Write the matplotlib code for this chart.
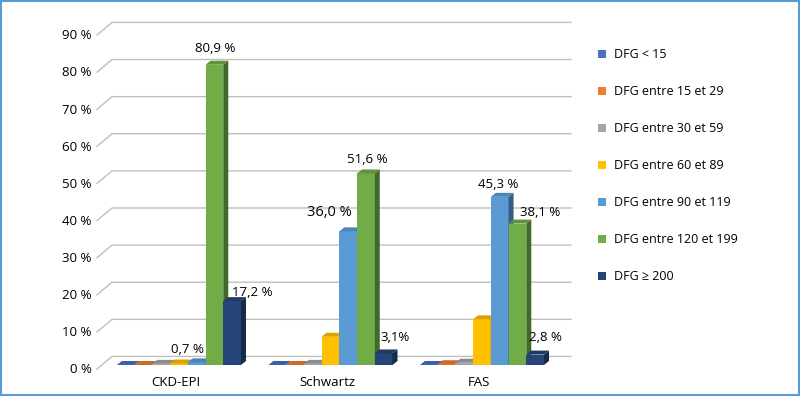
import matplotlib
matplotlib.use('Agg')
import numpy as np
import matplotlib.pyplot as plt
from matplotlib.patches import Polygon, Patch, Rectangle
from matplotlib.colors import to_rgb

plt.rcParams['font.family'] = ['Open Sans', 'DejaVu Sans']

categories = ['CKD-EPI', 'Schwartz', 'FAS']
series = ['DFG < 15', 'DFG entre 15 et 29', 'DFG entre 30 et 59', 'DFG entre 60 et 89',
          'DFG entre 90 et 119', 'DFG entre 120 et 199', 'DFG \u2265 200']
colors = ['#4472C4', '#ED7D31', '#A5A5A5', '#FFC000', '#5B9BD5', '#70AD47', '#264478']

# values in % : one row per series, one column per method
dfg_lt15 = [0.0, 0.0, 0.0]
dfg_15_29 = [0.0, 0.0, 0.2]
dfg_30_59 = [0.3, 0.3, 0.6]
dfg_60_89 = [0.4, 7.6, 12.3]
dfg_90_119 = [0.7, 36.0, 45.3]
dfg_120_199 = [80.9, 51.6, 38.1]
dfg_ge200 = [17.2, 3.1, 2.8]
values = [dfg_lt15, dfg_15_29, dfg_30_59, dfg_60_89, dfg_90_119, dfg_120_199, dfg_ge200]

yticks = [0, 10, 20, 30, 40, 50, 60, 70, 80, 90]

# (category, series, text, offset in pixels from top of bar, fontsize)
value_labels = [
    (0, 4, '0,7 %', (-9, 13), 9.5),
    (0, 5, '80,9 %', (1, 16), 9.5),
    (0, 6, '17,2 %', (20, 9), 9.5),
    (1, 4, '36,0 %', (-19, 19), 10.5),
    (1, 5, '51,6 %', (1, 14), 9.5),
    (1, 6, '3,1%', (11, 16), 9.5),
    (2, 4, '45,3 %', (-2, 12), 9.5),
    (2, 5, '38,1 %', (23, 11), 9.5),
    (2, 6, '2,8 %', (10, 17), 9.5),
]

fig = plt.figure(figsize=(8, 3.96), dpi=100)
ax = fig.add_axes([90 / 800, 21 / 396, 490 / 800, 360 / 396])
ax.set_xlim(-0.587, 2.647)
ax.set_ylim(-2.7, 94.3)
ax.axis('off')

# 3d look (in data units)
dx, dy = 0.033, 1.08          # bar depth
wall_dx, wall_dy = 0.099, 2.3  # back wall offset
front_x = -0.541

bw = 0.117
x = np.arange(len(categories))

# back wall grid + floor diagonals
for v in yticks:
    ax.plot([front_x, front_x + wall_dx, 2.587], [v - 1.1, v + wall_dy, v + wall_dy],
            color='#BFBFBF', lw=1, zorder=1)
    ax.text(front_x - 0.035, v - 1.3, f'{v} %', ha='right', va='center', fontsize=9.5)

def shade(c, f):
    r, g, b = to_rgb(c)
    return (r * f, g * f, b * f)

k = 0
for gi in range(len(categories)):
    for si, (vals, c) in enumerate(zip(values, colors)):
        h = vals[gi]
        x0 = x[gi] + (si - 3.5) * bw
        x1 = x0 + bw
        z = 2 + 0.01 * k
        k += 1
        ax.bar(x0, h, width=bw, align='edge', color=c, zorder=z)
        ax.add_patch(Polygon([(x0, h), (x1, h), (x1 + dx, h + dy), (x0 + dx, h + dy)],
                             closed=True, facecolor=shade(c, 0.85), edgecolor='none', zorder=z))
        ax.add_patch(Polygon([(x1, 0), (x1, h), (x1 + dx, h + dy), (x1 + dx, dy)],
                             closed=True, facecolor=shade(c, 0.6), edgecolor='none', zorder=z))

for gi, si, txt, off, fs in value_labels:
    xc = x[gi] + (si - 3) * bw
    ax.annotate(txt, (xc, values[si][gi]), xytext=off, textcoords='offset pixels',
                ha='center', va='center', fontsize=fs, zorder=10)

for gi, cat in enumerate(categories):
    ax.text(x[gi] - 0.02, -4.6, cat, ha='center', va='center', fontsize=9.5)

handles = [Patch(facecolor=c, edgecolor='none', label=s) for s, c in zip(series, colors)]
fig.legend(handles=handles, loc='upper left', bbox_to_anchor=(587 / 800, 1 - 37 / 396),
           frameon=False, fontsize=9, handlelength=0.6, handleheight=0.6,
           handletextpad=0.64, labelspacing=1.92)

fig.patches.append(Rectangle((0.001, 0.002), 0.998, 0.996, transform=fig.transFigure,
                             fill=False, edgecolor='#5B9BD5', lw=1.5))

fig.savefig('out.png', dpi=100)
